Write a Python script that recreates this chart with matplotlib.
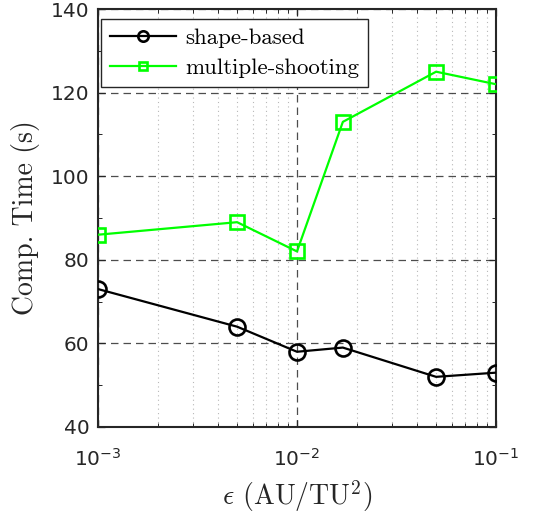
import matplotlib
matplotlib.use("Agg")
import matplotlib.pyplot as plt
import numpy as np
from matplotlib.ticker import FixedLocator, LogLocator, NullFormatter, FuncFormatter

eps = [1e-3, 5e-3, 1e-2, 1.7e-2, 5e-2, 1e-1]
shape_based = [73, 64, 58, 59, 52, 53]
multiple_shooting = [86, 89, 82, 113, 125, 122]
yticks = [40, 60, 80, 100, 120, 140]
xticks = [1e-3, 1e-2, 1e-1]

plt.rcParams['font.family'] = ['DejaVu Sans']
plt.rcParams['mathtext.fontset'] = 'dejavusans'
plt.rcParams['xtick.labelsize'] = 14.5
plt.rcParams['ytick.labelsize'] = 14.5
plt.rcParams['xtick.major.pad'] = 15
plt.rcParams['ytick.major.pad'] = 6
plt.rcParams['xtick.direction'] = 'in'
plt.rcParams['ytick.direction'] = 'in'

fig = plt.figure(figsize=(5.33, 5.17), dpi=100)
ax = fig.add_axes([98/533, 90/517, 398/533, 418/517])

ax.plot(eps, shape_based, '-o', color='black', lw=1.6, ms=11.5, mfc='none', mew=1.9,
        label='shape-based', zorder=3)
ax.plot(eps, multiple_shooting, '-s', color='#00ff00', lw=1.6, ms=9.5, mfc='none', mew=1.9,
        label='multiple-shooting', zorder=3)

ax.set_xscale('log')
ax.set_xlim(1e-3, 1e-1)
ax.set_ylim(40, 140)
ax.xaxis.set_major_locator(FixedLocator(xticks))
ax.xaxis.set_minor_locator(LogLocator(base=10, subs=np.arange(2, 10)))
ax.xaxis.set_minor_formatter(NullFormatter())
ax.yaxis.set_major_locator(FixedLocator(yticks))
ax.yaxis.set_minor_locator(FixedLocator([50, 70, 90, 110, 130]))

def xfmt(v, pos):
    e = int(round(np.log10(v)))
    return r'$\mathregular{10^{%d}}$' % e

ax.xaxis.set_major_formatter(FuncFormatter(xfmt))

ax.grid(True, which='major', axis='both', linestyle=(0, (6, 4)), color='#3a3a3a', lw=0.9, alpha=0.9)
ax.grid(True, which='minor', axis='x', linestyle=(0, (1, 3)), color='#b8b8b8', lw=0.8)
ax.set_axisbelow(True)

ax.tick_params(which='both', top=True, right=True, colors='#262626')
ax.tick_params(which='major', length=5, width=0.9)
ax.tick_params(which='minor', length=3, width=0.7)
for s in ax.spines.values():
    s.set_linewidth(1.5)
    s.set_color('#262626')

ax.set_ylabel('Comp. Time (s)', fontfamily='cmr10', fontsize=20, color='#262626', labelpad=8)
ax.set_xlabel(r'$\epsilon$ (AU/TU$^2$)', fontfamily='cmr10', math_fontfamily='cm',
              fontsize=20, color='#262626', labelpad=6)

leg = ax.legend(loc='upper left', bbox_to_anchor=(101/533, 1 - 19/517),
                bbox_transform=fig.transFigure,
                prop={'family': 'cmr10', 'size': 16.5}, frameon=True,
                fancybox=False, edgecolor='#262626', framealpha=1, handlelength=2.9,
                markerscale=0.65, borderaxespad=0, borderpad=0.38, labelspacing=0.45,
                handletextpad=0.4)
leg.get_frame().set_linewidth(1.0)

fig.savefig('out.png', dpi=100)
